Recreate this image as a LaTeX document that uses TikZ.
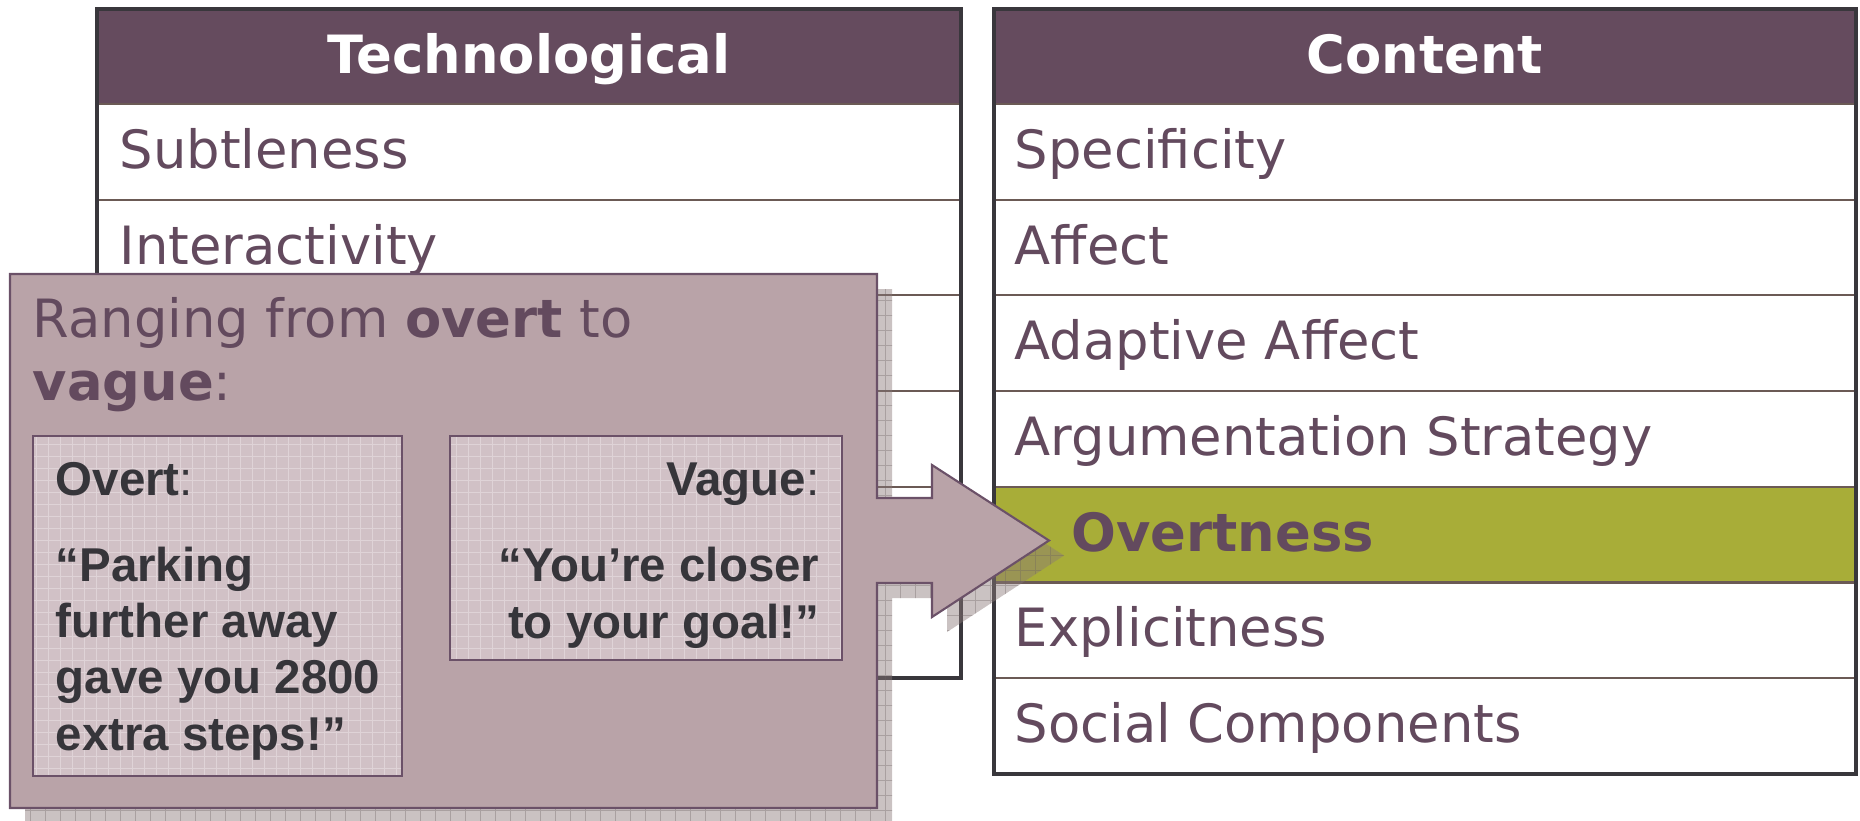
\documentclass[tikz,border=0pt]{standalone}
\usepackage{fontspec}
\setmainfont{DejaVu Sans}
\newfontfamily\quotefont{Liberation Sans}
\definecolor{plum}{HTML}{654B5E}
\definecolor{plumtext}{HTML}{634A5E}
\definecolor{frame}{HTML}{39373C}
\definecolor{linebrown}{HTML}{6B5A55}
\definecolor{olive}{HTML}{A8AD38}
\definecolor{mauve}{HTML}{B9A3A8}
\definecolor{mauveedge}{HTML}{6B5168}
\definecolor{pale}{HTML}{D1C1C6}
\definecolor{gridpale}{HTML}{DFD3D7}
\definecolor{quotegray}{HTML}{36353A}
\definecolor{shadowgray}{HTML}{8A7878}
\definecolor{shadowgrid}{HTML}{6E6262}

\begin{document}
\begin{tikzpicture}[x=0.01cm, y=-0.01cm,
    heading/.style={font=\fontsize{15}{18}\selectfont\bfseries, text=white, inner sep=0pt, anchor=base},
    item/.style={font=\fontsize{15}{18}\selectfont, text=plumtext, inner sep=0pt, anchor=base west},
    rowline/.style={linebrown, line width=0.6pt},
    tableframe/.style={frame, line width=1.4pt},
    quotehead/.style={font=\quotefont\fontsize{13.5}{16.2}\selectfont\bfseries, text=quotegray, inner sep=0pt},
    quotetext/.style={font=\quotefont\fontsize{13.5}{16}\selectfont\bfseries, text=quotegray, inner sep=0pt},
    card/.style={mauveedge, line width=0.6pt}]
   \useasboundingbox (0,0) rectangle (1860,820);

   \fill[white] (97,9) rectangle (961,678);
   \fill[plum] (97,9) rectangle (961,104);
   \draw[rowline] (97,104) -- (961,104);
   \draw[rowline] (97,199.7) -- (961,199.7);
   \draw[rowline] (97,295.4) -- (961,295.4);
   \draw[rowline] (97,391.1) -- (961,391.1);
   \draw[rowline] (97,486.8) -- (961,486.8);
   \draw[rowline] (97,582.5) -- (961,582.5);
   \draw[tableframe] (97,9) rectangle (961,678);
   \node[heading] (tech) at (529,73) {Technological};
   \node[item] (subtle) at (119,168) {Subtleness};
   \node[item] (interact) at (119,264) {Interactivity};

   \fill[white] (994,9) rectangle (1856,774);
   \fill[plum] (994,9) rectangle (1856,104);
   \fill[olive] (994,486.8) rectangle (1856,582.5);
   \draw[rowline] (994,104) -- (1856,104);
   \draw[rowline] (994,199.7) -- (1856,199.7);
   \draw[rowline] (994,295.4) -- (1856,295.4);
   \draw[rowline] (994,391.1) -- (1856,391.1);
   \draw[rowline] (994,486.8) -- (1856,486.8);
   \draw[rowline] (994,582.5) -- (1856,582.5);
   \draw[rowline] (994,678.2) -- (1856,678.2);
   \draw[tableframe] (994,9) rectangle (1856,774);
   \node[heading] (content) at (1425,73) {Content};
   \node[item] (specific) at (1014,168) {Specificity};
   \node[item] (affect) at (1014,264) {Affect};
   \node[item] (adaptive) at (1014,359) {Adaptive Affect};
   \node[item] (argument) at (1014,455) {Argumentation Strategy};
   \node[item, font=\fontsize{15}{18}\selectfont\bfseries] (overtness) at (1071,551) {Overtness};
   \node[item] (explicit) at (1014,646) {Explicitness};
   \node[item] (social) at (1014,742) {Social Components};

   \begin{scope}
     \clip (25,289) -- (892,289) -- (892,513) -- (947,513) -- (947,480) -- (1064,555.5)
       -- (947,632) -- (947,598) -- (892,598) -- (892,823) -- (25,823) -- cycle;
     \fill[shadowgray, opacity=.45] (0,270) rectangle (1100,830);
     \draw[shadowgrid, opacity=.35, line width=.25pt, step=0.15cm] (0,830) grid (1100,270);
   \end{scope}

   \draw[card, fill=mauve] (10,274) -- (877,274) -- (877,498) -- (932,498) -- (932,465)
     -- (1049,540.5) -- (932,617) -- (932,583) -- (877,583) -- (877,808) -- (10,808) -- cycle;
   \node[item, anchor=base west, align=left, font=\fontsize{15}{17.9}\selectfont] (range) at (32,400)
     {Ranging from \textbf{overt} to\\\textbf{vague}:};

   \fill[pale] (33,436) rectangle (402,776);
   \draw[gridpale, line width=.25pt, step=0.12cm] (33,776) grid (402,436);
   \draw[card] (33,436) rectangle (402,776);
   \node[quotehead, anchor=base west] (overt) at (55,495) {Overt\mdseries:};
   \node[quotetext, anchor=base west, align=left] (overtquote) at (55,750)
     {“Parking\\further away\\gave you 2800\\extra steps!”};

   \fill[pale] (450,436) rectangle (842,660);
   \draw[gridpale, line width=.25pt, step=0.12cm] (450,660) grid (842,436);
   \draw[card] (450,436) rectangle (842,660);
   \node[quotehead, anchor=base east] (vague) at (820,495) {Vague\mdseries:};
   \node[quotetext, anchor=base east, align=right] (vaguequote) at (820,638)
     {“You’re closer\\to your goal!”};
 \end{tikzpicture}
\end{document}
